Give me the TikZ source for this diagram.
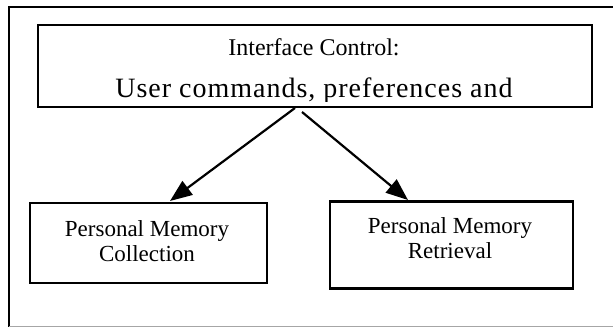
\documentclass[tikz,border=0pt]{standalone}
\usepackage{fontspec}
\setmainfont{Liberation Serif}
\usetikzlibrary{arrows.meta}
\begin{document}
\begin{tikzpicture}[x=1pt,y=-1pt,
  box/.style={draw, line width=2.4pt, inner sep=0pt, rectangle},
  lbl/.style={anchor=base, inner sep=0pt, align=center, font=\fontsize{23}{25}\selectfont},
  conn/.style={line width=2.2pt, -{Triangle[length=22pt,width=17pt]}}]
\useasboundingbox (0,0) rectangle (613,328);
% outer frame
\draw[line width=2.2pt] (613,7) -- (9,7) -- (9,327);
\draw[line width=1.8pt, gray!70] (9,326.5) -- (613,326.5);
% top box
\node[box, minimum width=554pt, minimum height=82pt] (top) at (315,66) {};
\begin{scope}
\clip (39,26) rectangle (591,101.5);
\node[lbl, font=\fontsize{24}{26}\selectfont] (t1) at (314,56) {Interface Control:};
\node[lbl, font=\fontsize{28}{30}\selectfont\addfontfeature{LetterSpace=3.5}] (t2) at (314,97.5) {User commands, preferences and};
\end{scope}
% bottom boxes
\node[box, minimum width=237pt, minimum height=80pt] (coll) at (148.5,243) {};
\node[lbl] (colltxt) at (147,261.5) {Personal Memory\\Collection};
\node[box, minimum width=243pt, minimum height=87pt] (retr) at (451.5,245) {};
\node[lbl] (retrtxt) at (450,258.5) {Personal Memory\\Retrieval};
% connectors
\coordinate (s1) at (295,108);
\coordinate (e1) at (170,201);
\coordinate (s2) at (302,112);
\coordinate (e2) at (408,200);
\draw[conn] (s1) -- (e1);
\draw[conn] (s2) -- (e2);
\end{tikzpicture}
\end{document}
